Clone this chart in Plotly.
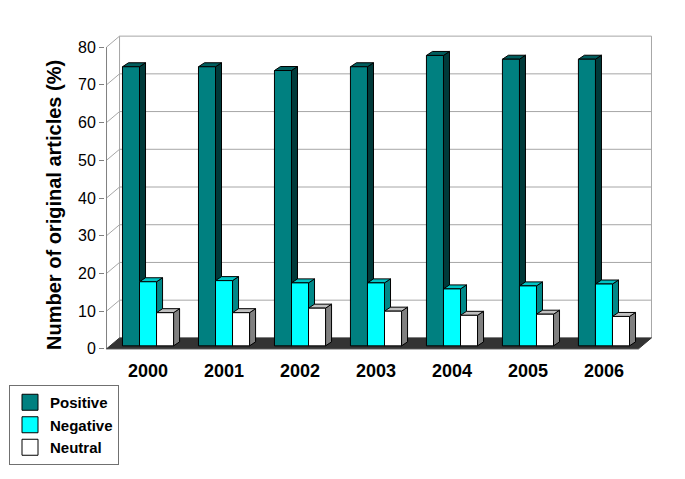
import plotly.graph_objects as go

# ---------------- data ----------------
years = ["2000", "2001", "2002", "2003", "2004", "2005", "2006"]
positive = [74, 74, 73, 74, 77, 76, 76]
negative = [17.0, 17.3, 16.7, 16.7, 15.1, 15.9, 16.4]
neutral = [8.8, 8.8, 10.0, 9.2, 8.1, 8.4, 7.8]
series_names = ["Positive", "Negative", "Neutral"]
y_ticks = [0, 10, 20, 30, 40, 50, 60, 70, 80]
y_title = "Number of original articles (%)"

# ---------------- geometry / style ----------------
W_PX, H_PX = 685, 479
PX_X = 531 / 7.0          # pixels per category unit
PX_Y = 302 / 80.0         # pixels per value unit
FRONT_LEFT_PX = 107
FRONT_ZERO_PX = 349
DXW, DYW = 13 / PX_X, 11 / PX_Y      # wall depth
BX, BY = 3.5 / PX_X, 3 / PX_Y        # bar plane offset
DXB, DYB = 6 / PX_X, 4 / PX_Y        # bar depth
BW = 17 / PX_X                       # bar width
PADX, PADY = 0.02, 0.3

x_lo, x_hi = -0.5 - PADX, 6.5 + DXW + PADX
y_lo, y_hi = -PADY, 80 + DYW + PADY
m_l = FRONT_LEFT_PX - PADX * PX_X
m_r = W_PX - (FRONT_LEFT_PX + (x_hi + 0.5) * PX_X)
m_b = H_PX - (FRONT_ZERO_PX + PADY * PX_Y)
m_t = FRONT_ZERO_PX - y_hi * PX_Y
plot_w = W_PX - m_l - m_r
plot_h = H_PX - m_t - m_b

colors = {
    "Positive": ("#008080", "#005e5e", "#003a3a"),
    "Negative": ("#00ffff", "#00c4c4", "#008888"),
    "Neutral": ("#ffffff", "#c0c0c0", "#808080"),
}
grid_color = "#a6a6a6"
FONT = "Liberation Sans, Arial, sans-serif"

fig = go.Figure()


def poly_trace(xs, ys, fill, line_color="#000000", lw=1):
    fig.add_trace(go.Scatter(
        x=xs, y=ys, mode="lines", fill="toself", fillcolor=fill,
        line=dict(color=line_color, width=lw), hoverinfo="skip",
        showlegend=False))


def line_trace(xs, ys, color, lw=1):
    fig.add_trace(go.Scatter(
        x=xs, y=ys, mode="lines", line=dict(color=color, width=lw),
        hoverinfo="skip", showlegend=False))


# back wall gridlines + side wall diagonals
gx, gy = [], []
for v in y_ticks[1:]:
    gx += [-0.5, -0.5 + DXW, 6.5 + DXW, None]
    gy += [v, v + DYW, v + DYW, None]
line_trace(gx, gy, grid_color)
# wall edges
line_trace([-0.5 + DXW, -0.5 + DXW], [DYW, 80 + DYW], grid_color)
line_trace([6.5 + DXW, 6.5 + DXW], [DYW, 80 + DYW], grid_color)
# front-left axis line
line_trace([-0.5, -0.5], [0, 80], "#808080")

# floor
poly_trace([-0.5, 6.5, 6.5 + DXW, -0.5 + DXW, -0.5],
           [0, 0, DYW, DYW, 0], "#333333", "#333333")

# bars (pseudo-3D)
all_vals = [positive, negative, neutral]
for k, (name, vals) in enumerate(zip(series_names, all_vals)):
    front_c, top_c, side_c = colors[name]
    sx, sy, tx, ty, fx, fy = [], [], [], [], [], []
    for i, v in enumerate(vals):
        x0 = i + BX - 1.5 * BW + k * BW
        x1 = x0 + BW
        y0 = BY
        y1 = BY + v
        sx += [x1, x1 + DXB, x1 + DXB, x1, x1, None]
        sy += [y0, y0 + DYB, y1 + DYB, y1, y0, None]
        tx += [x0, x1, x1 + DXB, x0 + DXB, x0, None]
        ty += [y1, y1, y1 + DYB, y1 + DYB, y1, None]
        fx += [x0, x1, x1, x0, x0, None]
        fy += [y0, y0, y1, y1, y0, None]
    poly_trace(sx, sy, side_c)
    poly_trace(tx, ty, top_c)
    poly_trace(fx, fy, front_c)

# legend entries
for name in series_names:
    fig.add_trace(go.Scatter(
        x=[None], y=[None], mode="markers", name=name,
        marker=dict(symbol="square", size=16, color=colors[name][0],
                    line=dict(color="#000000", width=1))))

fig.add_annotation(
    text=y_title, textangle=-90, showarrow=False,
    xref="paper", yref="paper",
    x=(54.5 - m_l) / plot_w, y=(H_PX - m_b - 205) / plot_h,
    xanchor="center", yanchor="middle",
    font=dict(size=20, family=FONT, weight="bold", color="#000000"),
)

fig.update_layout(
    width=W_PX, height=H_PX, autosize=False,
    margin=dict(l=m_l, r=m_r, t=m_t, b=m_b, pad=0, autoexpand=False),
    paper_bgcolor="white", plot_bgcolor="white",
    font=dict(family=FONT, color="#000000"),
    showlegend=True,
    legend=dict(
        xref="container", yref="container",
        x=9 / W_PX, y=1 - 385 / H_PX,
        xanchor="left", yanchor="top",
        bordercolor="#707070", borderwidth=1, bgcolor="white",
        font=dict(size=15, family=FONT, weight="bold"),
        tracegroupgap=0,
    ),
    xaxis=dict(
        range=[x_lo, x_hi], showgrid=False, zeroline=False, showline=False,
        tickmode="array", tickvals=[i + BX for i in range(len(years))],
        ticktext=years, ticks="", ticklabelstandoff=8, automargin=False,
        tickfont=dict(size=18, family=FONT, weight="bold"), fixedrange=True,
    ),
    yaxis=dict(
        range=[y_lo, y_hi], showgrid=False, zeroline=False, showline=False,
        tickmode="array", tickvals=y_ticks, ticktext=[str(v) for v in y_ticks],
        ticks="outside", ticklen=5, tickcolor="#808080", automargin=False,
        tickfont=dict(size=16, family=FONT), fixedrange=True,
    ),
)

fig.write_html("out.html", config={"displayModeBar": False},
               post_script="document.body.style.margin='0px';")
